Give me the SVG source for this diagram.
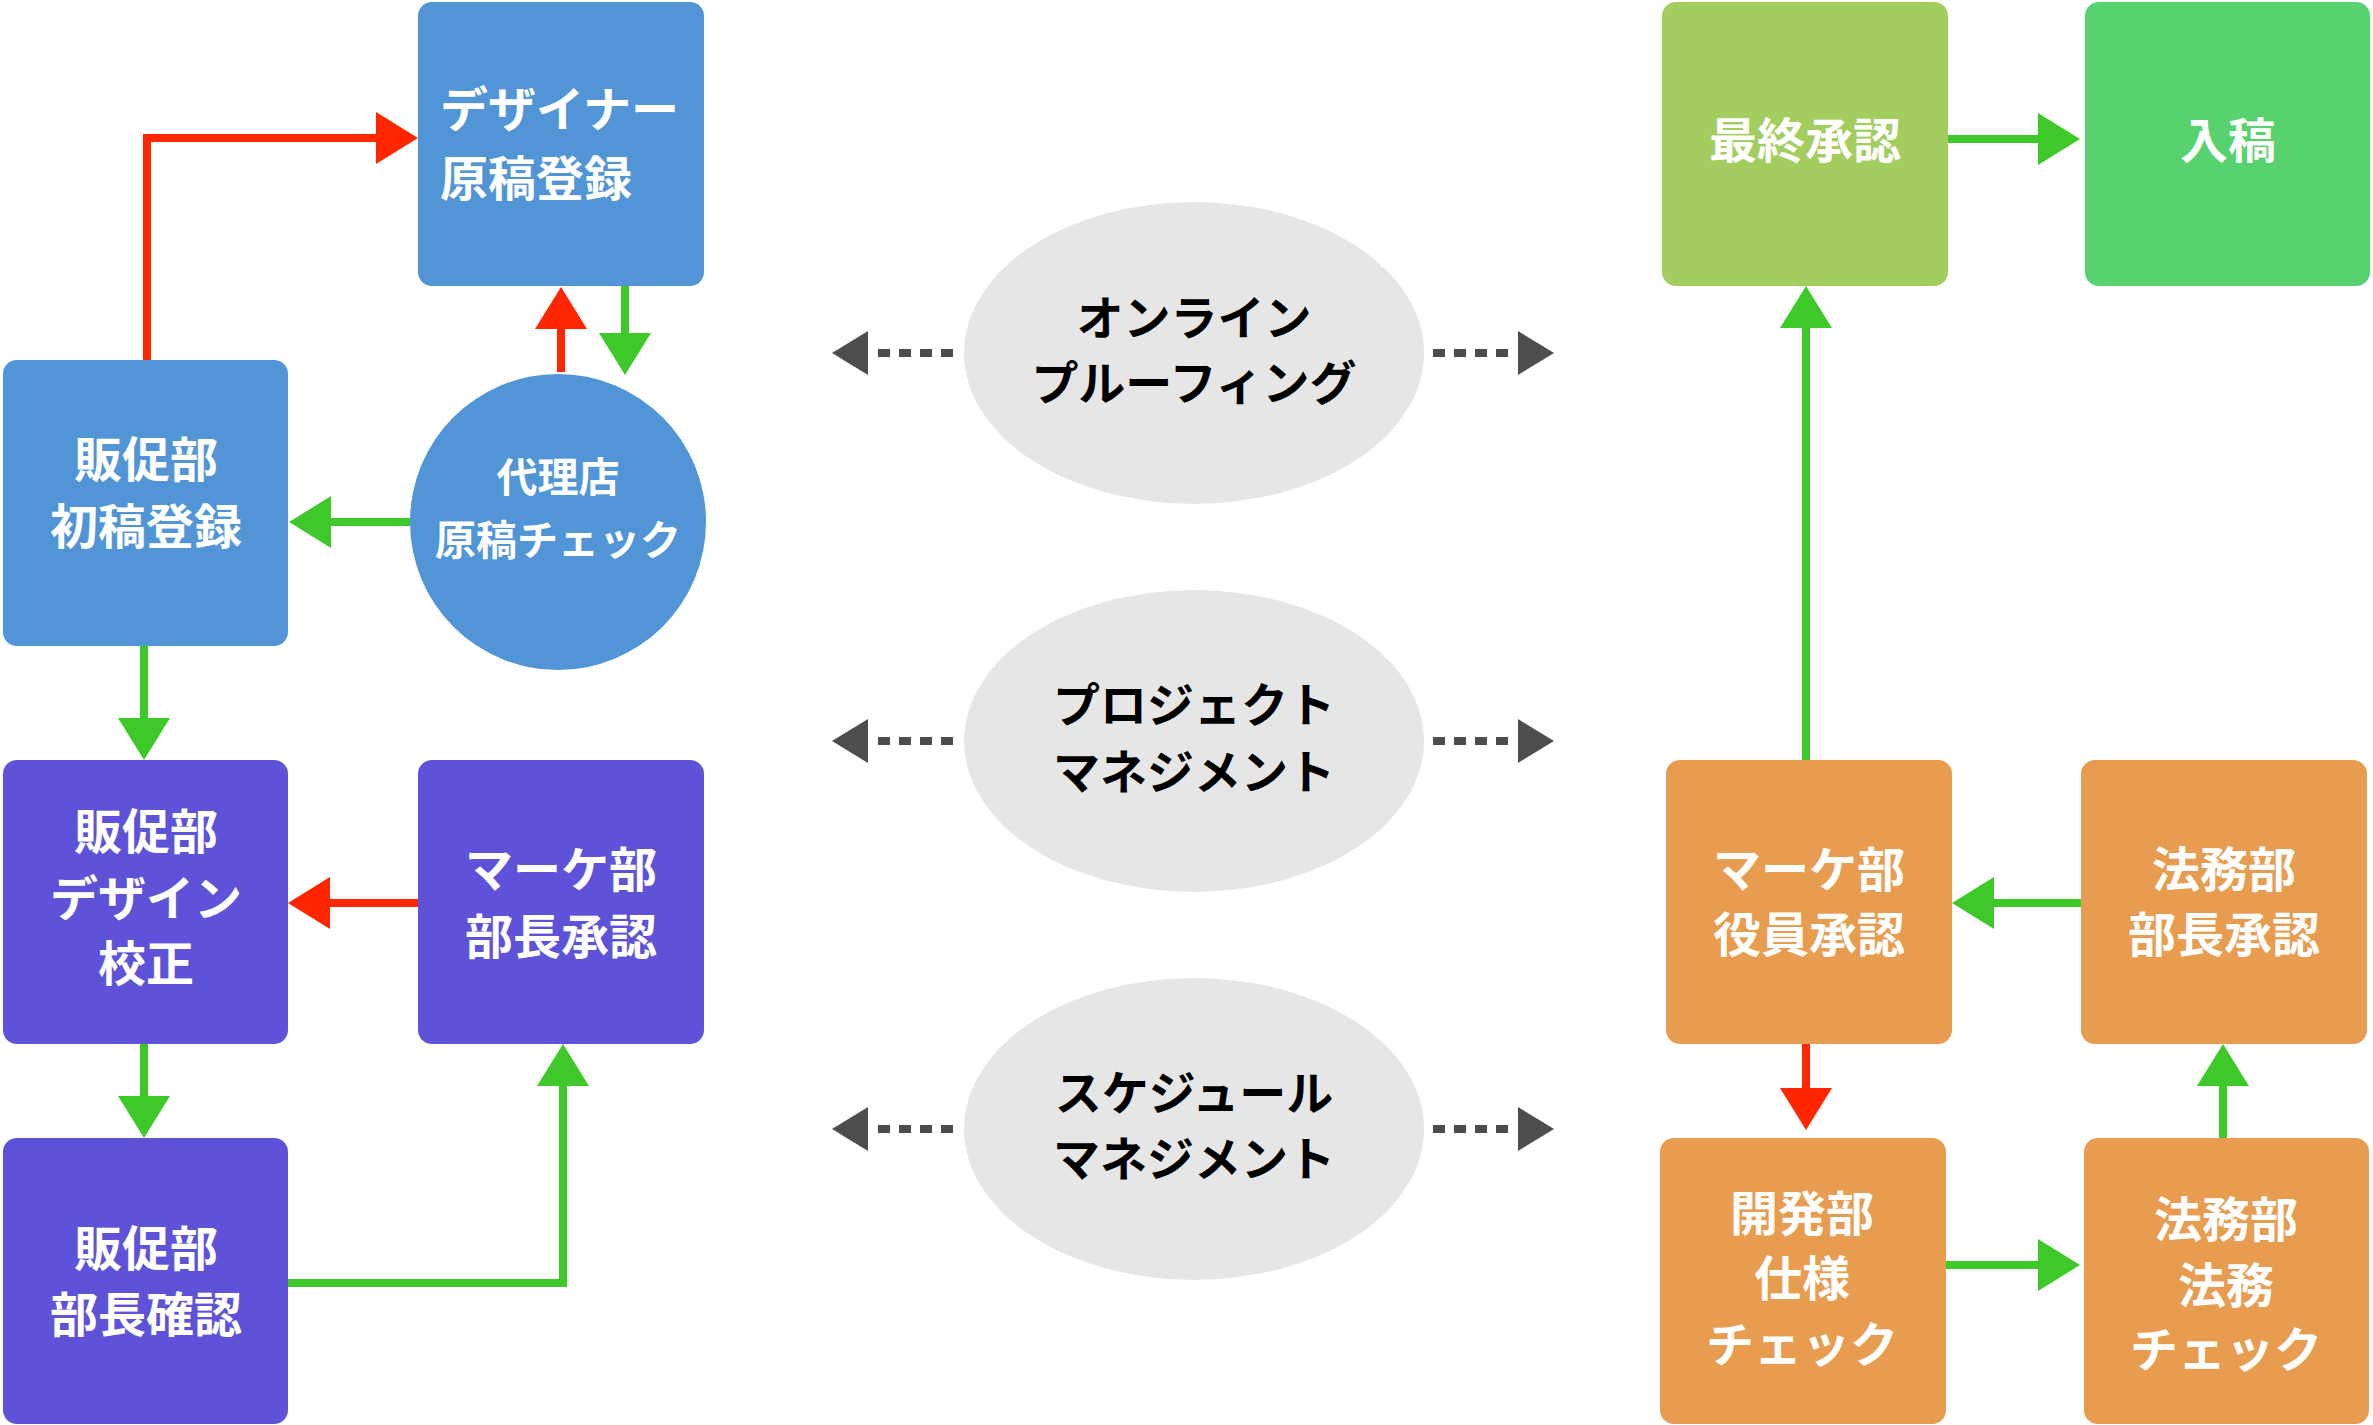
<svg xmlns="http://www.w3.org/2000/svg" width="2373" height="1425" viewBox="0 0 2373 1425">
<style>
.t{font-family:"Noto Sans CJK JP","Noto Sans",sans-serif;font-weight:bold;font-size:48px;fill:#ffffff;text-anchor:middle}
.c{font-size:41px}
.k{font-family:"Noto Sans CJK JP","Noto Sans",sans-serif;font-weight:bold;font-size:47px;fill:#000000;text-anchor:middle}
.blue{fill:#5195d6}.purple{fill:#5e52d8}.orange{fill:#e79c4f}.lgreen{fill:#a3cd5f}.green{fill:#57d26f}
.ell{fill:#e6e6e6}
.g{fill:none;stroke:#3ec82a;stroke-width:8}
.r{fill:none;stroke:#ff2600;stroke-width:8}
.d{fill:none;stroke:#4d4d4d;stroke-width:8;stroke-dasharray:12 9 12 9 12 9 12 200}
</style>
<defs>
<marker id="ag" markerUnits="userSpaceOnUse" markerWidth="44" markerHeight="54" refX="0" refY="26" orient="auto" overflow="visible"><path d="M0,0 L42,26 L0,52 z" fill="#3ec82a"/></marker>
<marker id="ar" markerUnits="userSpaceOnUse" markerWidth="44" markerHeight="54" refX="0" refY="26" orient="auto" overflow="visible"><path d="M0,0 L42,26 L0,52 z" fill="#ff2600"/></marker>
<marker id="ad" markerUnits="userSpaceOnUse" markerWidth="38" markerHeight="46" refX="0" refY="22" orient="auto" overflow="visible"><path d="M0,0 L36,22 L0,44 z" fill="#4d4d4d"/></marker>
</defs>

<g id="connectors">
<path class="r" d="M147,360 L147,138 L376,138" marker-end="url(#ar)"/>
<path class="r" d="M561,372 L561,329" marker-end="url(#ar)"/>
<path class="g" d="M625,286 L625,333" marker-end="url(#ag)"/>
<path class="g" d="M410,522 L331,522" marker-end="url(#ag)"/>
<path class="g" d="M144,646 L144,718" marker-end="url(#ag)"/>
<path class="r" d="M418,903 L330,903" marker-end="url(#ar)"/>
<path class="g" d="M144,1044 L144,1096" marker-end="url(#ag)"/>
<path class="g" d="M288,1283 L563,1283 L563,1086" marker-end="url(#ag)"/>
<path class="g" d="M1948,139 L2038,139" marker-end="url(#ag)"/>
<path class="g" d="M1806,760 L1806,328" marker-end="url(#ag)"/>
<path class="g" d="M2081,903 L1994,903" marker-end="url(#ag)"/>
<path class="r" d="M1806,1044 L1806,1088" marker-end="url(#ar)"/>
<path class="g" d="M1946,1265 L2038,1265" marker-end="url(#ag)"/>
<path class="g" d="M2223,1138 L2223,1086" marker-end="url(#ag)"/>
<path class="d" d="M953,353 L868,353" marker-end="url(#ad)"/>
<path class="d" d="M1433,353 L1518,353" marker-end="url(#ad)"/>
<path class="d" d="M953,741 L868,741" marker-end="url(#ad)"/>
<path class="d" d="M1433,741 L1518,741" marker-end="url(#ad)"/>
<path class="d" d="M953,1129 L868,1129" marker-end="url(#ad)"/>
<path class="d" d="M1433,1129 L1518,1129" marker-end="url(#ad)"/>
</g>

<g id="designer">
<rect class="blue" x="418" y="2" width="286" height="284" rx="14"/>
<text class="t" style="text-anchor:start" x="440" y="127">デザイナー</text>
<text class="t" style="text-anchor:start" x="440" y="196">原稿登録</text>
</g>
<g id="hansoku-shoko">
<rect class="blue" x="3" y="360" width="285" height="286" rx="14"/>
<text class="t" x="146" y="477">販促部</text>
<text class="t" x="146" y="544">初稿登録</text>
</g>
<g id="dairiten">
<circle class="blue" cx="558" cy="522" r="148"/>
<text class="t c" x="558" y="492">代理店</text>
<text class="t c" x="558" y="555">原稿チェック</text>
</g>
<g id="hansoku-design">
<rect class="purple" x="3" y="760" width="285" height="284" rx="14"/>
<text class="t" x="146" y="849">販促部</text>
<text class="t" x="146" y="916">デザイン</text>
<text class="t" x="146" y="981">校正</text>
</g>
<g id="marke-bucho">
<rect class="purple" x="418" y="760" width="286" height="284" rx="14"/>
<text class="t" x="561" y="887">マーケ部</text>
<text class="t" x="561" y="954">部長承認</text>
</g>
<g id="hansoku-bucho">
<rect class="purple" x="3" y="1138" width="285" height="286" rx="14"/>
<text class="t" x="146" y="1266">販促部</text>
<text class="t" x="146" y="1332">部長確認</text>
</g>

<g id="online">
<ellipse class="ell" cx="1194" cy="353" rx="230" ry="151"/>
<text class="k" x="1194" y="335">オンライン</text>
<text class="k" x="1194" y="400">プルーフィング</text>
</g>
<g id="project">
<ellipse class="ell" cx="1194" cy="741" rx="230" ry="151"/>
<text class="k" x="1194" y="722">プロジェクト</text>
<text class="k" x="1194" y="789">マネジメント</text>
</g>
<g id="schedule">
<ellipse class="ell" cx="1194" cy="1129" rx="230" ry="151"/>
<text class="k" x="1194" y="1110">スケジュール</text>
<text class="k" x="1194" y="1176">マネジメント</text>
</g>

<g id="saishu">
<rect class="lgreen" x="1662" y="2" width="286" height="284" rx="14"/>
<text class="t" x="1805" y="158">最終承認</text>
</g>
<g id="nyuko">
<rect class="green" x="2085" y="2" width="285" height="284" rx="14"/>
<text class="t" x="2228" y="158">入稿</text>
</g>
<g id="marke-yakuin">
<rect class="orange" x="1666" y="760" width="286" height="284" rx="14"/>
<text class="t" x="1809" y="887">マーケ部</text>
<text class="t" x="1809" y="952">役員承認</text>
</g>
<g id="homu-bucho">
<rect class="orange" x="2081" y="760" width="286" height="284" rx="14"/>
<text class="t" x="2224" y="887">法務部</text>
<text class="t" x="2224" y="952">部長承認</text>
</g>
<g id="kaihatsu">
<rect class="orange" x="1660" y="1138" width="286" height="286" rx="14"/>
<text class="t" x="1802" y="1231">開発部</text>
<text class="t" x="1802" y="1296">仕様</text>
<text class="t" x="1802" y="1362">チェック</text>
</g>
<g id="homu-check">
<rect class="orange" x="2084" y="1138" width="285" height="286" rx="14"/>
<text class="t" x="2226" y="1237">法務部</text>
<text class="t" x="2226" y="1303">法務</text>
<text class="t" x="2226" y="1367">チェック</text>
</g>
</svg>
